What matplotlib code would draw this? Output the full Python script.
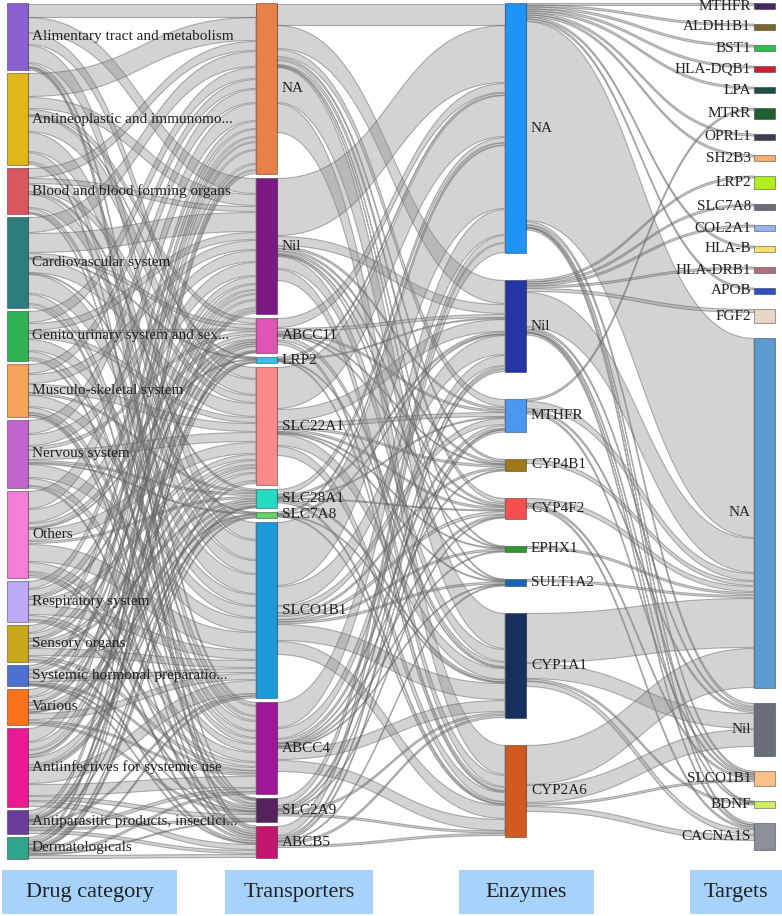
import numpy as np
import matplotlib
matplotlib.use("Agg")
import matplotlib.pyplot as plt
from matplotlib.patches import Rectangle, Polygon

# ---- data -------------------------------------------------------------
drug_cats = ["Alimentary tract and metabolism", "Antineoplastic and immunomo...",
             "Blood and blood forming organs", "Cardiovascular system",
             "Genito urinary system and sex...", "Musculo-skeletal system",
             "Nervous system", "Others", "Respiratory system", "Sensory organs",
             "Systemic hormonal preparatio...", "Various",
             "Antiinfectives for systemic use", "Antiparasitic products, insectici...",
             "Dermatologicals"]
drug_vals = [67, 92, 46, 91, 50, 53, 68, 87, 41, 37, 21, 36, 79, 24, 22]

transporters = ["NA", "Nil", "ABCC11", "LRP2", "SLC22A1", "SLC28A1", "SLC7A8",
                "SLCO1B1", "ABCC4", "SLC2A9", "ABCB5"]
trans_vals = [171, 136, 35, 6, 118, 19, 6, 176, 92, 24, 31]

enzymes = ["NA", "Nil", "MTHFR", "CYP4B1", "CYP4F2", "EPHX1", "SULT1A2",
           "CYP1A1", "CYP2A6"]
enz_vals = [250, 92, 33, 12, 21, 6, 7, 103, 92]

targets = ["MTHFR", "ALDH1B1", "BST1", "HLA-DQB1", "LPA", "MTRR", "OPRL1", "SH2B3",
           "LRP2", "SLC7A8", "COL2A1", "HLA-B", "HLA-DRB1", "APOB", "FGF2", "NA",
           "Nil", "SLCO1B1", "BDNF", "CACNA1S"]
target_vals = [6, 6, 6, 6, 6, 11, 6, 6, 13, 6, 6, 6, 6, 6, 14, 349, 53, 15, 7, 27]

# drug category -> transporter (rows: drug_cats, cols: transporters)
drug_trans = [
    [14, 16, 0, 0, 12, 0, 0, 18, 4, 1, 2],
    [24, 12, 6, 1, 16, 0, 0, 20, 10, 0, 3],
    [10, 6, 0, 0, 8, 2, 0, 14, 5, 1, 0],
    [16, 20, 5, 1, 14, 0, 1, 20, 10, 4, 0],
    [12, 8, 2, 0, 6, 0, 0, 12, 7, 0, 3],
    [10, 10, 0, 0, 9, 2, 0, 12, 6, 2, 2],
    [14, 12, 4, 0, 10, 3, 1, 14, 8, 0, 2],
    [18, 14, 5, 1, 12, 3, 0, 18, 10, 3, 3],
    [8, 8, 2, 0, 6, 0, 0, 10, 5, 2, 0],
    [8, 6, 2, 0, 5, 2, 0, 8, 4, 0, 2],
    [5, 4, 0, 0, 3, 0, 0, 5, 2, 1, 1],
    [8, 6, 2, 0, 5, 2, 1, 7, 3, 2, 0],
    [14, 8, 5, 2, 8, 3, 2, 14, 12, 5, 6],
    [6, 3, 1, 1, 0, 1, 0, 2, 4, 2, 4],
    [4, 3, 1, 0, 3, 1, 1, 2, 2, 1, 4],
]

# transporter -> enzyme (rows: transporters, cols: enzymes)
trans_enz = [
    [22, 24, 8, 3, 5, 1, 1, 36, 30],
    [58, 10, 3, 2, 3, 1, 1, 13, 12],
    [10, 4, 2, 1, 1, 0, 0, 5, 4],
    [2, 1, 0, 0, 0, 0, 0, 1, 1],
    [42, 13, 5, 2, 3, 1, 1, 12, 10],
    [6, 2, 1, 0, 1, 0, 0, 2, 2],
    [2, 1, 0, 0, 0, 0, 0, 1, 1],
    [64, 20, 7, 3, 4, 2, 2, 17, 14],
    [26, 11, 4, 1, 2, 1, 1, 12, 12],
    [8, 3, 1, 0, 1, 0, 0, 3, 2],
    [10, 3, 2, 0, 0, 0, 1, 3, 3],
]

# enzyme -> target (source, target, value)
enz_target = [
    ("NA", "MTHFR", 2), ("NA", "ALDH1B1", 2), ("NA", "BST1", 2), ("NA", "HLA-DQB1", 2),
    ("NA", "LPA", 2), ("NA", "OPRL1", 2), ("NA", "SH2B3", 2), ("NA", "HLA-B", 2),
    ("NA", "APOB", 2), ("NA", "NA", 200), ("NA", "Nil", 4), ("NA", "SLCO1B1", 2),
    ("NA", "BDNF", 1), ("NA", "CACNA1S", 2),
    ("Nil", "LRP2", 2), ("Nil", "SLC7A8", 2), ("Nil", "COL2A1", 2), ("Nil", "HLA-DRB1", 2),
    ("Nil", "FGF2", 4), ("Nil", "NA", 35), ("Nil", "Nil", 3), ("Nil", "SLCO1B1", 2),
    ("Nil", "BDNF", 1), ("Nil", "CACNA1S", 2),
    ("MTHFR", "MTRR", 2), ("MTHFR", "NA", 8), ("MTHFR", "Nil", 3), ("MTHFR", "SLCO1B1", 2),
    ("CYP4B1", "NA", 5),
    ("CYP4F2", "NA", 6), ("CYP4F2", "SLCO1B1", 2), ("CYP4F2", "CACNA1S", 2),
    ("EPHX1", "NA", 3),
    ("SULT1A2", "NA", 3),
    ("CYP1A1", "NA", 50), ("CYP1A1", "Nil", 16), ("CYP1A1", "BDNF", 2), ("CYP1A1", "CACNA1S", 6),
    ("CYP2A6", "NA", 40), ("CYP2A6", "Nil", 18), ("CYP2A6", "SLCO1B1", 3), ("CYP2A6", "CACNA1S", 6),
]

col_titles = ["Drug category", "Transporters", "Enzymes", "Targets"]

colors = [
    ["#8a5fd0", "#e0b81a", "#d9575f", "#2e7d7e", "#2fb354", "#f8a45c", "#c066cc",
     "#f57fd6", "#bfaaf7", "#c9a81c", "#4c6fd0", "#f8731b", "#ea1a92", "#6a3d9a", "#2fa58b"],
    ["#e8804a", "#7a1a82", "#df55b4", "#2ec6f0", "#f98a8a", "#24dcc0", "#62d46a",
     "#1a9ad8", "#a0169a", "#55225e", "#c4166c"],
    ["#2093f8", "#2535a5", "#4a98f0", "#a0781c", "#f45050", "#2e9a2e", "#1a64b0",
     "#17305e", "#d05a20"],
    ["#4a2860", "#7a6830", "#2dc050", "#d02030", "#1e5048", "#1f6030", "#3a4050",
     "#f8b070", "#b0f020", "#6a6e7a", "#98b4f0", "#f8e070", "#b07080", "#3050c0",
     "#e8d8c8", "#5b9bd0", "#6a6e78", "#fcc088", "#d0f060", "#8c9098"],
]

# ---- build link list --------------------------------------------------
names = [drug_cats, transporters, enzymes, targets]
explicit = [drug_vals, trans_vals, enz_vals, target_vals]
links = []  # (col, src, tgt, value)
for i, row in enumerate(drug_trans):
    for j, v in enumerate(row):
        if v > 0:
            links.append((0, i, j, v))
for i, row in enumerate(trans_enz):
    for j, v in enumerate(row):
        if v > 0:
            links.append((1, i, j, v))
for s, t, v in enz_target:
    links.append((2, enzymes.index(s), targets.index(t), v))

# ---- layout -----------------------------------------------------------
W, H = 782, 916
col_x = [7, 256, 505, 754]
node_w = 21
gaps = [3, 4, 27, 15]
top, bottom = 3, 859

size = [[float(v) for v in col] for col in explicit]
inflow = [[0.0] * len(c) for c in names]
outflow = [[0.0] * len(c) for c in names]
for c, i, j, v in links:
    outflow[c][i] += v
    inflow[c + 1][j] += v
for c in range(4):
    for k in range(len(names[c])):
        size[c][k] = max(size[c][k], inflow[c][k], outflow[c][k])

ky = (bottom - top - gaps[0] * (len(names[0]) - 1)) / sum(size[0])
node_y = []
for c in range(4):
    ys, y = [], top
    for k in range(len(names[c])):
        ys.append(y)
        y += size[c][k] * ky + gaps[c]
    node_y.append(ys)

# link offsets: outgoing sorted by target y, incoming sorted by source y
src_off, tgt_off = {}, {}
for c in range(3):
    for i in range(len(names[c])):
        outs = sorted([l for l in links if l[0] == c and l[1] == i], key=lambda l: node_y[c + 1][l[2]])
        y = node_y[c][i]
        for l in outs:
            src_off[l] = y
            y += l[3] * ky
    for j in range(len(names[c + 1])):
        ins = sorted([l for l in links if l[0] == c and l[2] == j], key=lambda l: node_y[c][l[1]])
        y = node_y[c + 1][j]
        for l in ins:
            tgt_off[l] = y
            y += l[3] * ky

# ---- draw -------------------------------------------------------------
fig = plt.figure(figsize=(W / 100, H / 100), dpi=100)
ax = fig.add_axes([0, 0, 1, 1])
ax.set_xlim(0, W)
ax.set_ylim(H, 0)
ax.axis("off")

t = np.linspace(0, 1, 60)
s = 3 * t ** 2 - 2 * t ** 3
for l in links:
    c, i, j, v = l
    x0 = col_x[c] + node_w
    x1 = col_x[c + 1]
    w = v * ky
    y0, y1 = src_off[l], tgt_off[l]
    pad = 0.5 if w > 2.5 else 0.0
    # cubic bezier with both control points at the middle x
    xm = (x0 + x1) / 2
    xs = (1 - t) ** 3 * x0 + 3 * (1 - t) ** 2 * t * xm + 3 * (1 - t) * t ** 2 * xm + t ** 3 * x1
    top_y = y0 + pad + (y1 - y0) * s
    bot_y = y0 + w - pad + (y1 - y0) * s
    pts = np.column_stack([np.concatenate([xs, xs[::-1]]),
                           np.concatenate([top_y, bot_y[::-1]])])
    ax.add_patch(Polygon(pts, closed=True, facecolor=(0.55, 0.55, 0.55, 0.38),
                         edgecolor=(0.35, 0.35, 0.35, 0.45), lw=0.8, zorder=1))

serif = ["Liberation Serif", "DejaVu Serif"]
for c in range(4):
    for k, name in enumerate(names[c]):
        y = node_y[c][k]
        h = size[c][k] * ky
        ax.add_patch(Rectangle((col_x[c], y), node_w, h, facecolor=colors[c][k],
                               edgecolor=(0, 0, 0, 0.35), lw=0.8, zorder=2))
        ty = max(y + h / 2, 7)
        if c == 3:
            ax.text(col_x[c] - 3, ty, name, ha="right", va="center",
                    fontsize=11, family=serif, color="#222222", zorder=3)
        else:
            ax.text(col_x[c] + node_w + (4 if c == 0 else 5), ty, name,
                    ha="left", va="center", fontsize=11, family=serif,
                    color="#222222", zorder=3)

boxes = [(2, 177), (225, 373), (459, 594), (690, 782)]
for (bx0, bx1), title in zip(boxes, col_titles):
    ax.add_patch(Rectangle((bx0, 870), bx1 - bx0, 44, facecolor="#a6d2fb",
                           edgecolor="none", zorder=2))
    ax.text((bx0 + bx1) / 2, 892, title, ha="center", va="center", fontsize=16,
            family=serif, color="#222222", zorder=3)

fig.savefig("out.png", dpi=100)
